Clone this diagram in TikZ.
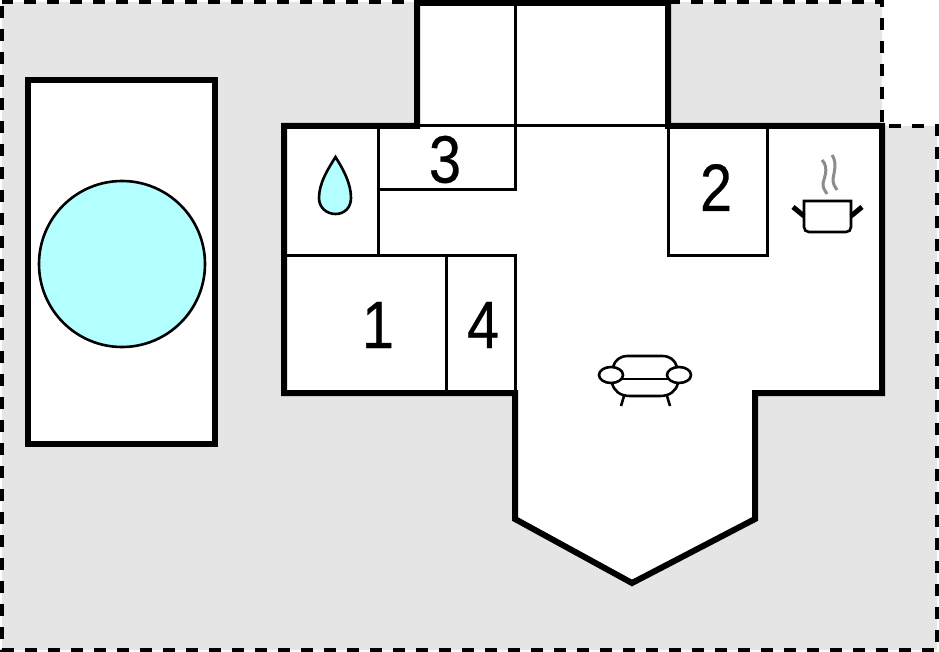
\documentclass[tikz,border=0pt]{standalone}
\usepackage{fontspec}
\newfontfamily\roomfont[FakeStretch=0.86,FakeBold=0.4]{Liberation Sans}
\definecolor{garden}{HTML}{E5E5E5}
\definecolor{water}{HTML}{B3FFFF}
\definecolor{steam}{HTML}{8C8C8C}
\tikzset{outer wall/.style={line width=6pt,line join=miter}}
\tikzset{inner wall/.style={line width=3pt}}
\tikzset{icon/.style={line width=2.6pt}}
\tikzset{room/.style={inner sep=0pt,font=\roomfont\fontsize{67}{67}\selectfont}}
\begin{document}
\begin{tikzpicture}[x=1pt,y=-1pt]
      \useasboundingbox (0,0) rectangle (939,652);
      % plot
      \fill [garden] (2,2) -- (882,2) -- (882,126) -- (937,126) -- (937,650) -- (2,650) -- cycle;
      \draw [line width=3.5pt,dash pattern=on 12pt off 11pt,dash phase=1pt] (2,2) -- (882,2) -- (882,126) -- (937,126) -- (937,650) -- (2,650) -- cycle;
      % pool
      \draw [outer wall,fill=white] (28,80) rectangle (215,444);
      \draw [line width=2.6pt,fill=water] (122,264) circle (83);
      % house
      \draw [outer wall,fill=white] (284,126) -- (417,126) -- (417,3) -- (668,3) -- (668,126) -- (882,126) -- (882,393) -- (755,393) -- (755,519) -- (632,583) -- (515,519) -- (515,393) -- (284,393) -- cycle;
      \draw [inner wall] (515,3) -- (515,190) -- (378,190);
      \draw [inner wall] (378,126) -- (378,256);
      \draw [inner wall] (284,256) -- (515,256) -- (515,393);
      \draw [inner wall] (446,256) -- (446,393);
      \draw [inner wall] (417,126) -- (668,126);
      \draw [inner wall] (668,126) -- (668,256) -- (767,256) -- (767,126);
      % drop
      \draw [icon,fill=water] (335.5,157) .. controls (328,169) and (319,183) .. (319,198) .. controls (319,208) and (327,214) .. (335.5,214) .. controls (344,214) and (351,208) .. (351,198) .. controls (351,183) and (343,169) .. (335.5,157) -- cycle;
      % pot
      \draw [icon] (804,201) -- (804,227) .. controls (804,230) and (806,232) .. (809,232) -- (846,232) .. controls (849,232) and (851,230) .. (851,227) -- (851,201) -- cycle;
      \draw [line width=5pt] (793,207) -- (804,216);
      \draw [line width=5pt] (862,207) -- (851,216);
      \draw [steam,line width=3pt] (822,160) .. controls (830,168) and (823,180) .. (823,184) .. controls (823,188) and (825,191) .. (827,194);
      \draw [steam,line width=3pt] (832,155) .. controls (838,163) and (833,175) .. (833,180) .. controls (833,184) and (835,187) .. (837,190);
      % sofa
      \draw [icon] (613,367) .. controls (615,360) and (620,356) .. (628,356) -- (662,356) .. controls (670,356) and (675,360) .. (677,367);
      \draw [icon] (621,379) -- (669,379);
      \draw [icon] (612,383) .. controls (614,391) and (620,396) .. (630,396) -- (660,396) .. controls (670,396) and (676,391) .. (678,383);
      \draw [icon] (624,396) -- (621,406);
      \draw [icon] (667,396) -- (670,406);
      \draw [icon,fill=white] (611,375) ellipse (12 and 8);
      \draw [icon,fill=white] (679,375) ellipse (12 and 8);
      % numbers
      \node [room] (room1) at (378,325) {1};
      \node [room] (room2) at (716,187.5) {2};
      \node [room] (room3) at (445,159.5) {3};
      \node [room] (room4) at (483,325) {4};
    \end{tikzpicture}
\end{document}
